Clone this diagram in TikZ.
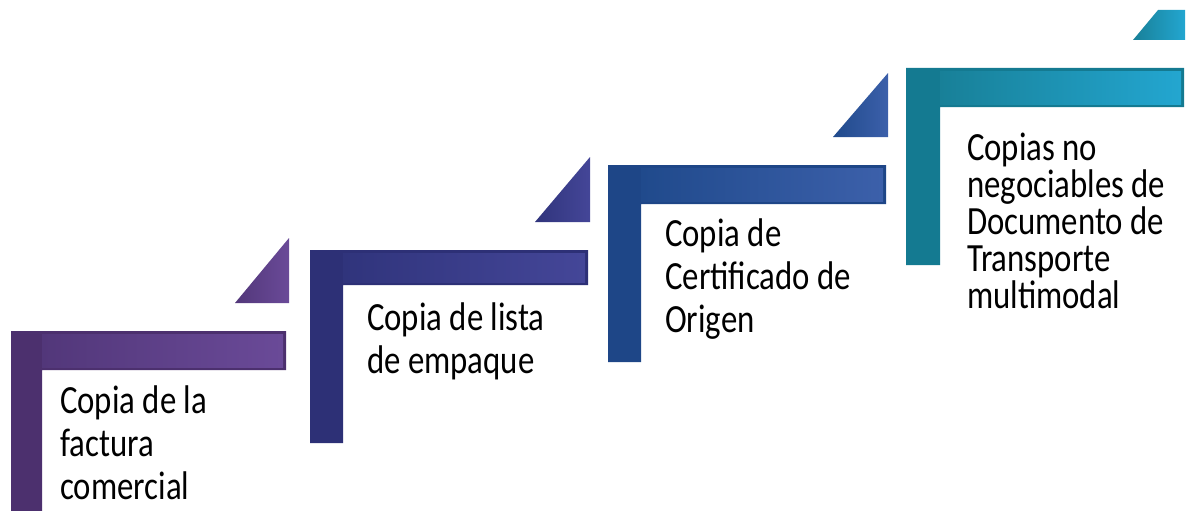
\documentclass[tikz,border=0pt]{standalone}
\usepackage{fontspec}
\setmainfont{Carlito}[FakeStretch=0.82]
\newlength{\du}
\setlength{\du}{1pt}
\begin{document}
\begin{tikzpicture}[doclabel/.style={anchor=base west,inner sep=0pt,align=left,font=\fontsize{40}{43}\selectfont}]
\pgftransformxscale{1.000000}
\pgftransformyscale{-1.000000}
\useasboundingbox (0\du,0\du) rectangle (1188\du,511\du);
% step 1
\definecolor{dialinecolor}{rgb}{0.298, 0.188, 0.431}
\definecolor{dialinedark}{rgb}{0.322, 0.216, 0.478}
\definecolor{dialinelight}{rgb}{0.416, 0.290, 0.596}
\fill[dialinecolor] (11\du,331\du)--(286\du,331\du)--(286\du,370\du)--(42\du,370\du)--(42\du,511\du)--(11\du,511\du)--cycle;
\shade[left color=dialinedark,right color=dialinelight] (42\du,334\du) rectangle (283\du,367\du);
\shade[left color=dialinedark,right color=dialinelight] (235\du,303\du)--(289\du,303\du)--(289\du,238\du)--cycle;
% last baseline
\node[doclabel] (factura) at (60\du,499\du){Copia de la\\factura\\comercial};
% step 2
\definecolor{dialinecolor}{rgb}{0.176, 0.188, 0.463}
\definecolor{dialinedark}{rgb}{0.188, 0.204, 0.486}
\definecolor{dialinelight}{rgb}{0.267, 0.275, 0.596}
\fill[dialinecolor] (310\du,250\du)--(588\du,250\du)--(588\du,285\du)--(343\du,285\du)--(343\du,443\du)--(310\du,443\du)--cycle;
\shade[left color=dialinedark,right color=dialinelight] (343\du,253\du) rectangle (585\du,282\du);
\shade[left color=dialinedark,right color=dialinelight] (535\du,222\du)--(590\du,222\du)--(590\du,157\du)--cycle;
\node[doclabel] (empaque) at (367\du,373\du){Copia de lista\\de empaque};
% step 3
\definecolor{dialinecolor}{rgb}{0.118, 0.275, 0.529}
\definecolor{dialinedark}{rgb}{0.125, 0.290, 0.549}
\definecolor{dialinelight}{rgb}{0.235, 0.376, 0.667}
\fill[dialinecolor] (608\du,165\du)--(886\du,165\du)--(886\du,204\du)--(641\du,204\du)--(641\du,362\du)--(608\du,362\du)--cycle;
\shade[left color=dialinedark,right color=dialinelight] (641\du,168\du) rectangle (883\du,201\du);
\shade[left color=dialinedark,right color=dialinelight] (833\du,137\du)--(888\du,137\du)--(888\du,73\du)--cycle;
\node[doclabel] (origen) at (665\du,332\du){Copia de\\Certificado de\\Origen};
% step 4
\definecolor{dialinecolor}{rgb}{0.078, 0.478, 0.569}
\definecolor{dialinedark}{rgb}{0.094, 0.502, 0.596}
\definecolor{dialinelight}{rgb}{0.137, 0.651, 0.816}
\fill[dialinecolor] (906\du,68\du)--(1184\du,68\du)--(1184\du,107\du)--(940\du,107\du)--(940\du,265\du)--(906\du,265\du)--cycle;
\shade[left color=dialinedark,right color=dialinelight] (940\du,71\du) rectangle (1181\du,104\du);
\shade[left color=dialinedark,right color=dialinelight] (1133\du,40\du)--(1158\du,10\du)--(1185\du,10\du)--(1185\du,40\du)--cycle;
\node[doclabel,font=\fontsize{40}{37}\selectfont] (multimodal) at (967\du,308\du){Copias no\\negociables de\\Documento de\\Transporte\\multimodal};
\end{tikzpicture}
\end{document}
